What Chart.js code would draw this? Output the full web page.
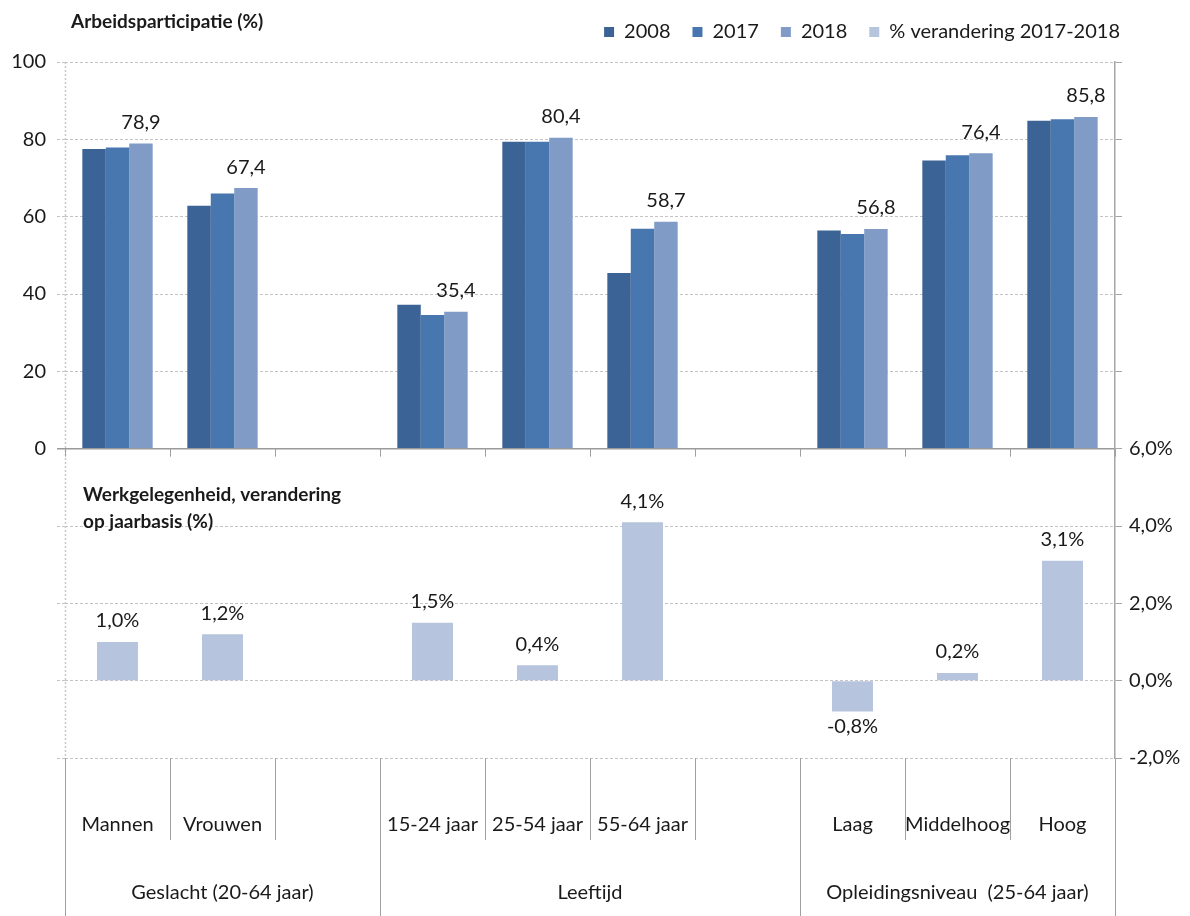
<!DOCTYPE html>
<html>
<head>
<meta charset="utf-8">
<title>Arbeidsparticipatie en werkgelegenheid</title>
<script src="https://cdn.jsdelivr.net/npm/chart.js@4"></script>
<style>
  body { margin: 0; background: #fff; }
  #chart { display: block; }
</style>
</head>
<body>
<canvas id="chart" width="1190" height="916"></canvas>
<script>
const categories = ['Mannen', 'Vrouwen', '', '15-24 jaar', '25-54 jaar', '55-64 jaar', '', 'Laag', 'Middelhoog', 'Hoog'];
const groupLabels = ['Geslacht (20-64 jaar)', 'Leeftijd', 'Opleidingsniveau  (25-64 jaar)'];
const groupRanges = [[0, 2], [3, 6], [7, 9]];

const seriesNames = ['2008', '2017', '2018', '% verandering 2017-2018'];
const part2008 = [77.5, 62.8, null, 37.2, 79.4, 45.4, null, 56.4, 74.5, 84.8];
const part2017 = [77.9, 66.0, null, 34.6, 79.4, 56.9, null, 55.5, 75.9, 85.2];
const part2018 = [78.9, 67.4, null, 35.4, 80.4, 58.7, null, 56.8, 76.4, 85.8];
const change = [1.0, 1.2, null, 1.5, 0.4, 4.1, null, -0.8, 0.2, 3.1];

const topTitle = 'Arbeidsparticipatie (%)';
const bottomTitle = ['Werkgelegenheid, verandering', 'op jaarbasis (%)'];

Chart.defaults.font.family = 'Lato, "Open Sans", sans-serif';
Chart.defaults.color = '#1a1a1a';

function fmt(v) {
    return v.toFixed(1).replace('.', ',');
}

function isZero(c) {
    return c.tick && c.tick.value === 0;
}

// push legend to the right a bit and fix its height
const legendFit = {
    id: 'legendFit',
    beforeInit(chart) {
        const fit = chart.legend.fit;
        chart.legend.fit = function () {
            fit.call(this);
            this.height = 62;
            this.lineWidths[0] += 48;
        };
    }
};

const valueLabels = {
    id: 'valueLabels',
    afterDatasetsDraw(chart) {
        const ctx = chart.ctx;
        ctx.save();
        ctx.font = '20px Lato';
        ctx.fillStyle = '#1a1a1a';
        ctx.textAlign = 'center';
        ctx.textBaseline = 'middle';

        chart.getDatasetMeta(2).data.forEach((bar, i) => {
            if (part2018[i] == null) return;
            ctx.fillText(fmt(part2018[i]), bar.x, bar.y - 21);
        });

        chart.getDatasetMeta(3).data.forEach((bar, i) => {
            const v = change[i];
            if (v == null) return;
            ctx.fillText(fmt(v) + '%', bar.x, v >= 0 ? bar.y - 21 : bar.y + 15);
        });
        ctx.restore();
    }
};

const categoryAxis = {
    id: 'categoryAxis',
    afterDraw(chart) {
        const {ctx, chartArea, scales: {x, y}} = chart;
        const half = (chartArea.right - chartArea.left) / categories.length / 2;
        const zeroY = y.getPixelForValue(0);
        const bottom = chartArea.bottom;
        const groupEdges = groupRanges.map(r => r[0]).concat([categories.length]);

        ctx.save();
        // dotted left axis line
        ctx.strokeStyle = '#c8c8c8';
        ctx.lineWidth = 1.5;
        ctx.setLineDash([2, 2]);
        ctx.beginPath();
        ctx.moveTo(chartArea.left + 0.5, chartArea.top);
        ctx.lineTo(chartArea.left + 0.5, bottom);
        ctx.stroke();
        ctx.setLineDash([]);

        ctx.strokeStyle = '#a0a0a0';
        ctx.lineWidth = 1;
        for (let i = 0; i <= categories.length; i++) {
            const px = Math.round(x.getPixelForValue(i) - half) + 0.5;
            ctx.beginPath();
            ctx.moveTo(px, zeroY);
            ctx.lineTo(px, zeroY + 8);
            ctx.moveTo(px, bottom);
            ctx.lineTo(px, groupEdges.includes(i) ? chart.height : bottom + 82);
            ctx.stroke();
        }

        ctx.fillStyle = '#1a1a1a';
        ctx.textAlign = 'center';
        ctx.textBaseline = 'middle';
        ctx.font = '20px Lato';
        categories.forEach((label, i) => {
            if (label) ctx.fillText(label, x.getPixelForValue(i), bottom + 67);
        });
        groupLabels.forEach((label, g) => {
            const [a, b] = groupRanges[g];
            const cx = (x.getPixelForValue(a) + x.getPixelForValue(b)) / 2;
            ctx.fillText(label, cx, bottom + 135);
        });

        // panel titles
        ctx.textAlign = 'left';
        ctx.font = 'bold 19px Lato';
        ctx.fillText(topTitle, 71, 22);
        ctx.fillText(bottomTitle[0], 83, 495);
        ctx.fillText(bottomTitle[1], 83, 522);
        ctx.restore();
    }
};

const ctx = document.getElementById('chart').getContext('2d');

new Chart(ctx, {
    type: 'bar',
    data: {
        labels: categories,
        datasets: [
            { label: seriesNames[0], data: part2008, backgroundColor: '#3C6395', yAxisID: 'y',
              categoryPercentage: 0.67, barPercentage: 1 },
            { label: seriesNames[1], data: part2017, backgroundColor: '#4876AE', yAxisID: 'y',
              categoryPercentage: 0.67, barPercentage: 1 },
            { label: seriesNames[2], data: part2018, backgroundColor: '#7F9BC6', yAxisID: 'y',
              categoryPercentage: 0.67, barPercentage: 1 },
            { label: seriesNames[3], data: change, backgroundColor: '#B7C4DE', yAxisID: 'y1',
              grouped: false, categoryPercentage: 1, barPercentage: 0.39 }
        ]
    },
    options: {
        responsive: false,
        animation: false,
        devicePixelRatio: 1,
        layout: { padding: { top: 0, right: 0, bottom: 158, left: 0 } },
        plugins: {
            legend: {
                position: 'top',
                align: 'end',
                labels: {
                    boxWidth: 10,
                    boxHeight: 10,
                    padding: 22,
                    color: '#1a1a1a',
                    font: { size: 20 }
                }
            },
            tooltip: { enabled: false }
        },
        scales: {
            x: { display: false },
            y: {
                position: 'left',
                min: -80,
                max: 100,
                ticks: {
                    stepSize: 20,
                    padding: 11,
                    font: { size: 20 },
                    callback: v => v >= 0 ? v : ''
                },
                grid: {
                    color: c => isZero(c) ? '#9a9a9a' : '#c4c4c4',
                    lineWidth: c => isZero(c) ? 1.5 : 1,
                    tickLength: 8,
                    tickBorderDash: c => isZero(c) ? [] : [3, 2]
                },
                border: {
                    display: false,
                    dash: c => isZero(c) ? [] : [3, 2]
                },
                afterFit: s => { s.width = 65; }
            },
            y1: {
                position: 'right',
                min: -2,
                max: 16,
                ticks: {
                    stepSize: 2,
                    padding: 7,
                    font: { size: 20 },
                    callback: v => v <= 6 ? fmt(v) + '%' : ''
                },
                grid: {
                    drawOnChartArea: false,
                    tickLength: 7,
                    color: '#a6a6a6'
                },
                border: { color: '#a6a6a6', width: 1.5 },
                afterFit: s => { s.width = 75; }
            }
        }
    },
    plugins: [legendFit, valueLabels, categoryAxis]
});
</script>
</body>
</html>
